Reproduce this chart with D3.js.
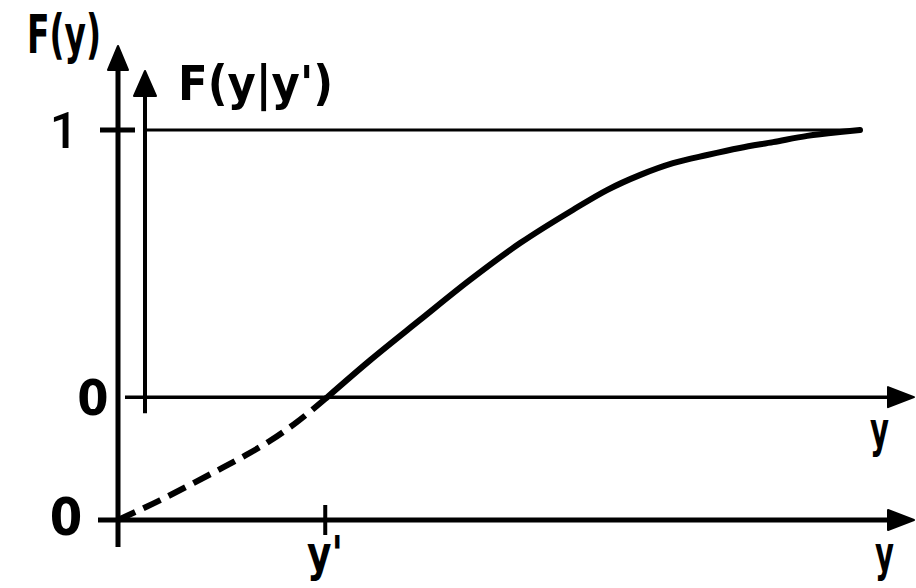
<!DOCTYPE html>
<html>
<head>
<meta charset="utf-8">
<script src="https://cdnjs.cloudflare.com/ajax/libs/d3/7.8.5/d3.min.js"></script>
<style>
  html, body { margin: 0; padding: 0; background: #fff; }
  svg text { font-family: "DejaVu Sans Condensed", "DejaVu Sans", sans-serif; font-weight: bold; fill: #000; }
  svg text.one { font-family: Roboto, "Open Sans", sans-serif; font-weight: 500; }
</style>
</head>
<body>
<svg width="916" height="588"></svg>
<script>
// values of y along the horizontal axis and F(y) on the outer scale
var curveY = [0, 0.57, 0.97, 1.33, 1.70, 2.05, 2.41, 2.82, 3.40, 4.07, 4.74, 5.42, 6.13, 6.59, 7.04, 7.48, 7.94, 8.38, 8.83, 9.29, 9.73, 10];
var curveF = [0, 0.051, 0.090, 0.126, 0.164, 0.203, 0.251, 0.315, 0.410, 0.513, 0.615, 0.710, 0.795, 0.846, 0.885, 0.915, 0.936, 0.954, 0.969, 0.985, 0.995, 1];
var yPrime = 2.82;

var outerTickValues = [0];
var outerTickLabels = ["0"];
var innerTickValues = [0, 1];
var innerTickLabels = ["0", "1"];
var axisNames = ["F(y)", "F(y|y')", "y", "y", "y'"];

var svg = d3.select("svg");

var x = d3.scaleLinear().domain([0, 10]).range([118, 860]);
var fOuter = d3.scaleLinear().domain([0, 1]).range([520, 130]);
var fPrime = fOuter(curveF[curveY.indexOf(yPrime)]);
var fInner = d3.scaleLinear().domain([0, 1]).range([fPrime, 130]);
var innerX = 145; // where the conditional axis stands

var points = curveY.map(function(d, i) { return {y: d, f: curveF[i]}; });
var line = d3.line()
    .curve(d3.curveMonotoneX)
    .x(function(d) { return x(d.y); })
    .y(function(d) { return fOuter(d.f); });

var g = svg.append("g");

// outer axes
g.append("line").attr("x1", x(0)).attr("x2", x(0)).attr("y1", 547).attr("y2", 62)
    .attr("stroke", "#000").attr("stroke-width", 5);
g.append("line").attr("x1", 98).attr("x2", 892).attr("y1", fOuter(0)).attr("y2", fOuter(0))
    .attr("stroke", "#000").attr("stroke-width", 5);

// inner axes
g.append("line").attr("x1", innerX).attr("x2", innerX).attr("y1", fInner(0) + 16).attr("y2", 90)
    .attr("stroke", "#000").attr("stroke-width", 4);
g.append("line").attr("x1", 125).attr("x2", 892).attr("y1", fInner(0)).attr("y2", fInner(0))
    .attr("stroke", "#000").attr("stroke-width", 3.5);
g.append("line").attr("x1", 143).attr("x2", x(10)).attr("y1", fInner(1)).attr("y2", fInner(1))
    .attr("stroke", "#000").attr("stroke-width", 3);

// tick marks
g.append("line").attr("x1", 100).attr("x2", 135).attr("y1", fInner(1)).attr("y2", fInner(1))
    .attr("stroke", "#000").attr("stroke-width", 5);
g.append("line").attr("x1", x(yPrime) - 2).attr("x2", x(yPrime) - 2)
    .attr("y1", fOuter(0) - 15).attr("y2", fOuter(0) + 15)
    .attr("stroke", "#000").attr("stroke-width", 4);

// arrow heads
function arrowUp(cx, tip, len, half) {
  g.append("path")
    .attr("d", "M" + cx + "," + tip + "L" + (cx + half) + "," + (tip + len) + "L" + (cx - half) + "," + (tip + len) + "Z")
    .attr("fill", "#000").attr("stroke", "#000").attr("stroke-width", 2).attr("stroke-linejoin", "round");
}
function arrowRight(cy, tip, len, half) {
  g.append("path")
    .attr("d", "M" + tip + "," + cy + "L" + (tip - len) + "," + (cy - half) + "L" + (tip - len) + "," + (cy + half) + "Z")
    .attr("fill", "#000").attr("stroke", "#000").attr("stroke-width", 2).attr("stroke-linejoin", "round");
}
arrowUp(x(0), 46, 24, 10);
arrowUp(innerX, 71, 25, 11);
arrowRight(fOuter(0), 914, 26, 10);
arrowRight(fInner(0), 914, 26, 10);

// the distribution curve: dashed below y', solid above
g.append("path")
    .datum(points.filter(function(d) { return d.y <= yPrime; }))
    .attr("d", line)
    .attr("fill", "none").attr("stroke", "#000")
    .attr("stroke-width", 6).attr("stroke-dasharray", "19,9");
g.append("path")
    .datum(points.filter(function(d) { return d.y >= yPrime; }))
    .attr("d", line)
    .attr("fill", "none").attr("stroke", "#000")
    .attr("stroke-width", 6).attr("stroke-linecap", "round");

// tick labels
g.selectAll("text.outer")
    .data(outerTickValues)
    .enter().append("text")
    .attr("class", "outer")
    .attr("x", 66).attr("y", function(d) { return fOuter(d) + 15; })
    .attr("text-anchor", "middle").attr("font-size", 52)
    .text(function(d, i) { return outerTickLabels[i]; });

g.selectAll("text.inner")
    .data(innerTickValues)
    .enter().append("text")
    .attr("class", function(d) { return d == 1 ? "inner one" : "inner"; })
    .attr("x", function(d) { return d == 0 ? 93 : 64; })
    .attr("y", function(d) { return fInner(d) + 18; })
    .attr("text-anchor", "middle").attr("font-size", 50)
    .text(function(d, i) { return innerTickLabels[i]; });

// axis names
g.append("text").attr("x", 27).attr("y", 53).attr("font-size", 54)
    .attr("textLength", 74).attr("lengthAdjust", "spacingAndGlyphs").text(axisNames[0]);
g.append("text").attr("x", 178).attr("y", 100).attr("font-size", 48)
    .attr("textLength", 155).attr("lengthAdjust", "spacingAndGlyphs").text(axisNames[1]);
g.append("text").attr("x", 870).attr("y", 447).attr("font-size", 50)
    .attr("textLength", 19).attr("lengthAdjust", "spacingAndGlyphs").text(axisNames[2]);
g.append("text").attr("x", 875).attr("y", 571).attr("font-size", 50)
    .attr("textLength", 19).attr("lengthAdjust", "spacingAndGlyphs").text(axisNames[3]);
g.append("text").attr("x", 307).attr("y", 571).attr("font-size", 50)
    .attr("textLength", 36).attr("lengthAdjust", "spacingAndGlyphs").text(axisNames[4]);
</script>
</body>
</html>
